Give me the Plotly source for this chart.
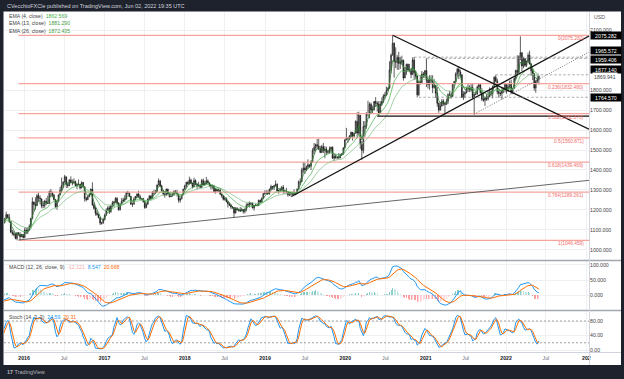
import pandas as pd
import numpy as np
import plotly.graph_objects as go

# ---------------- DATA (weekly XAU/USD, week starting Monday) ----------------
first_open = 1186
close_2015 = [1216,1277,1293,1279,1234,1227,1203,1213,1167,1152,1183,1199,1201,1204,1203,1175,1179,1189,1225,1205,1190,1168,1181,1201,1173,1168,1163,1132,1098,1095,1094,1113,1159,1134,1121,1108,1137,1145,1137,1156,1176,1162,1142,1088,1081,1076,1057,1085,1076,1065,1076,1061]
high_2015 = [1223,1282,1307,1295,1287,1243,1236,1224,1223,1177,1188,1220,1224,1219,1208,1209,1209,1196,1232,1232,1206,1195,1190,1205,1204,1180,1171,1165,1132,1103,1104,1126,1168,1170,1146,1126,1140,1157,1152,1159,1191,1178,1180,1144,1099,1093,1086,1088,1088,1088,1080,1077]
low_2015 = [1185,1214,1275,1250,1232,1216,1197,1196,1164,1148,1142,1179,1182,1187,1191,1175,1170,1170,1186,1203,1181,1162,1162,1180,1170,1162,1150,1131,1088,1079,1084,1090,1112,1116,1117,1098,1101,1127,1125,1131,1153,1159,1135,1085,1072,1067,1052,1047,1071,1046,1067,1056]

close_2016 = [1098,1089,1097,1117,1157,1239,1227,1222,1271,1259,1255,1220,1222,1243,1235,1232,1292,1289,1273,1252,1216,1243,1275,1298,1322,1339,1366,1327,1322,1350,1335,1335,1341,1321,1327,1328,1310,1337,1316,1257,1251,1266,1276,1304,1225,1208,1183,1177,1160,1134,1133,1151]
high_2016 = [1111,1112,1112,1127,1158,1263,1242,1263,1280,1287,1272,1255,1244,1250,1260,1271,1297,1304,1290,1280,1253,1247,1277,1315,1362,1343,1375,1358,1340,1354,1368,1352,1358,1346,1330,1352,1330,1343,1338,1318,1266,1273,1284,1307,1338,1236,1216,1195,1180,1164,1140,1160]
low_2016 = [1061,1078,1078,1095,1110,1153,1193,1201,1220,1240,1228,1208,1208,1210,1223,1231,1231,1265,1263,1247,1208,1200,1237,1274,1292,1308,1336,1310,1310,1318,1334,1323,1331,1318,1304,1323,1302,1308,1313,1241,1243,1251,1264,1275,1220,1201,1171,1170,1158,1124,1126,1132]

close_2017 = [1173,1197,1210,1191,1220,1234,1239,1257,1234,1201,1229,1243,1249,1254,1288,1284,1268,1228,1228,1254,1267,1279,1266,1254,1256,1242,1212,1228,1255,1269,1257,1289,1285,1291,1325,1346,1320,1297,1280,1274,1304,1280,1266,1269,1275,1294,1288,1280,1248,1256,1275,1303]
high_2017 = [1181,1207,1219,1220,1226,1245,1245,1264,1264,1238,1232,1259,1261,1274,1289,1296,1287,1270,1237,1264,1270,1283,1296,1276,1260,1260,1243,1233,1257,1274,1274,1294,1301,1300,1326,1357,1341,1326,1299,1284,1306,1306,1283,1283,1289,1297,1299,1300,1280,1260,1278,1306]
low_2017 = [1147,1172,1195,1180,1185,1216,1216,1236,1225,1195,1196,1228,1239,1241,1252,1277,1265,1226,1214,1227,1249,1259,1261,1251,1247,1236,1205,1208,1226,1250,1251,1256,1273,1280,1288,1322,1316,1290,1272,1261,1270,1277,1262,1264,1268,1272,1282,1267,1236,1236,1252,1274]

close_2018 = [1320,1338,1332,1350,1333,1316,1347,1330,1322,1324,1313,1347,1325,1332,1345,1336,1323,1314,1320,1291,1303,1294,1298,1278,1270,1253,1256,1241,1231,1223,1214,1212,1184,1206,1201,1199,1194,1201,1192,1203,1222,1227,1235,1233,1209,1222,1223,1222,1248,1238,1257,1281]
high_2018 = [1326,1340,1345,1366,1356,1337,1361,1353,1332,1341,1326,1355,1357,1346,1365,1353,1337,1320,1326,1325,1307,1306,1307,1310,1278,1271,1264,1262,1244,1236,1228,1219,1213,1214,1214,1206,1214,1211,1204,1207,1233,1234,1243,1237,1237,1225,1230,1231,1251,1251,1263,1284]
low_2018 = [1301,1312,1325,1326,1330,1307,1313,1324,1303,1313,1309,1309,1321,1321,1325,1332,1315,1302,1305,1285,1281,1290,1289,1276,1261,1247,1246,1238,1211,1219,1204,1205,1160,1182,1195,1191,1190,1194,1181,1182,1192,1221,1211,1224,1208,1196,1219,1217,1220,1236,1236,1256]

close_2019 = [1285,1288,1282,1304,1317,1314,1322,1328,1294,1298,1302,1313,1292,1291,1290,1275,1286,1279,1285,1277,1284,1305,1340,1341,1399,1409,1400,1415,1426,1419,1440,1497,1513,1527,1520,1506,1488,1517,1497,1505,1489,1490,1505,1514,1459,1468,1462,1463,1460,1476,1479,1511]
high_2019 = [1298,1298,1298,1306,1326,1319,1323,1347,1333,1300,1311,1320,1324,1299,1310,1293,1289,1288,1290,1303,1288,1306,1348,1358,1411,1439,1438,1422,1453,1427,1449,1509,1535,1532,1555,1557,1521,1526,1535,1519,1517,1498,1518,1516,1518,1479,1478,1466,1484,1482,1485,1514]
low_2019 = [1276,1279,1276,1276,1298,1302,1300,1320,1292,1281,1292,1295,1281,1282,1280,1266,1269,1267,1274,1274,1273,1279,1302,1325,1340,1383,1381,1395,1405,1411,1400,1440,1480,1493,1504,1500,1484,1485,1485,1459,1474,1481,1480,1485,1456,1445,1456,1453,1458,1459,1472,1478]

close_2020 = [1552,1562,1557,1571,1589,1570,1584,1643,1585,1674,1530,1498,1617,1620,1683,1683,1729,1700,1702,1743,1735,1730,1684,1730,1744,1771,1775,1799,1810,1902,1975,2035,1944,1940,1964,1934,1940,1950,1861,1899,1930,1899,1902,1879,1951,1889,1871,1777,1839,1839,1881,1877,1898]
high_2020 = [1553,1611,1563,1575,1592,1590,1585,1649,1689,1692,1675,1545,1645,1645,1690,1747,1739,1738,1722,1746,1765,1745,1745,1745,1764,1780,1790,1818,1815,1945,1984,2075,2040,2015,1976,1992,1967,1973,1953,1917,1933,1933,1932,1911,1965,1966,1898,1875,1848,1875,1896,1891,1900]
low_2020 = [1513,1548,1536,1549,1563,1547,1561,1583,1562,1576,1505,1451,1483,1567,1606,1670,1659,1683,1685,1699,1716,1693,1671,1686,1721,1735,1758,1782,1796,1807,1885,1976,1863,1911,1902,1902,1906,1926,1848,1873,1877,1891,1889,1860,1877,1850,1854,1764,1772,1828,1835,1862,1861]

close_2021 = [1850,1828,1855,1850,1813,1824,1784,1734,1700,1720,1745,1733,1729,1744,1777,1777,1769,1831,1843,1881,1905,1891,1877,1764,1781,1787,1808,1815,1802,1814,1763,1780,1781,1817,1827,1787,1754,1750,1761,1757,1768,1793,1783,1818,1865,1846,1792,1783,1783,1798,1809,1829]
high_2021 = [1959,1864,1875,1875,1875,1855,1826,1816,1739,1740,1755,1755,1740,1758,1785,1797,1790,1834,1846,1890,1913,1917,1903,1879,1795,1795,1818,1834,1825,1833,1832,1782,1795,1823,1834,1834,1809,1787,1765,1782,1801,1814,1810,1823,1869,1877,1858,1808,1793,1815,1813,1831]
low_2021 = [1816,1808,1802,1831,1785,1808,1760,1717,1687,1699,1719,1722,1677,1727,1730,1770,1757,1766,1808,1840,1870,1855,1865,1761,1751,1761,1784,1791,1790,1792,1757,1677,1775,1778,1809,1784,1745,1742,1721,1746,1748,1764,1771,1759,1816,1840,1779,1762,1770,1753,1785,1789]

close_2022 = [1797,1817,1835,1791,1808,1859,1899,1889,1970,1988,1921,1958,1925,1945,1975,1931,1897,1883,1811,1846,1853,1870]
high_2022 = [1831,1830,1848,1853,1810,1865,1903,1975,1974,2070,1990,1966,1960,1949,1988,1998,1936,1910,1884,1849,1870,1874]
low_2022 = [1782,1791,1806,1781,1780,1807,1852,1878,1889,1950,1895,1910,1917,1916,1936,1929,1872,1850,1798,1787,1836,1828]

last_bar_week = "2022-05-30"

# Fibonacci retracement (Dec 2015 low -> Aug 2020 high)
fib_ratios = ["0", "0.236", "0.382", "0.5", "0.618", "0.764", "1"]
fib_prices = [2075.282, 1832.480, 1682.373, 1560.871, 1439.469, 1289.261, 1046.459]
fib_start = "2015-12-07"

# Trendlines: (start date, start price, end date, end price)
long_support = ("2015-12-07", 1049, "2023-01-13", 1348)
desc_resist = ("2020-08-03", 2075, "2023-01-13", 1604)
asc_support = ("2019-05-01", 1267, "2023-01-13", 2071)
asc_channel = ("2021-08-09", 1680, "2023-01-13", 1991)
flat_support = ("2020-05-25", 1670, "2023-01-13", 1670)

# Dashed horizontal levels: (start date, price)
dashed_levels = [("2020-11-09", 1965.572), ("2021-01-04", 1959.406),
                 ("2020-11-30", 1764.570), ("2021-11-15", 1877.140)]

# Price-scale labels
box_labels = [2075.282, 1965.572, 1959.406, 1877.140, 1764.570]
box_yshift = [0, 7, -1, 5, 0]
last_price = 1869.941

ema_legend = ["1862.569", "1881.290", "1872.435"]
macd_legend = ["-12.121", "8.547", "20.668"]
stoch_legend = ["24.59", "20.31"]

price_ticks = [1000, 1100, 1200, 1300, 1400, 1500, 1600, 1700, 1800, 2100]
macd_ticks = [0, 50, 100]
stoch_ticks = [0, 40, 80]
time_ticks = ["2016-01-01", "2016-07-01", "2017-01-01", "2017-07-01", "2018-01-01", "2018-07-01",
              "2019-01-01", "2019-07-01", "2020-01-01", "2020-07-01", "2021-01-01", "2021-07-01",
              "2022-01-01", "2022-07-01", "2023-01-01"]
time_labels = ["2016", "Jul", "2017", "Jul", "2018", "Jul", "2019", "Jul", "2020", "Jul",
               "2021", "Jul", "2022", "Jul", "202"]

# ---------------- BUILD ----------------
closes = close_2015 + close_2016 + close_2017 + close_2018 + close_2019 + close_2020 + close_2021 + close_2022
highs = high_2015 + high_2016 + high_2017 + high_2018 + high_2019 + high_2020 + high_2021 + high_2022
lows = low_2015 + low_2016 + low_2017 + low_2018 + low_2019 + low_2020 + low_2021 + low_2022
opens = [first_open] + closes[:-1]
highs = [max(h, o, c) for h, o, c in zip(highs, opens, closes)]
lows = [min(l, o, c) for l, o, c in zip(lows, opens, closes)]
dates = pd.date_range(end=last_bar_week, periods=len(closes), freq="W-MON")

s = pd.Series(closes, dtype=float)
ema4 = s.ewm(span=4, adjust=False).mean()
ema13 = s.ewm(span=13, adjust=False).mean()
ema26 = s.ewm(span=26, adjust=False).mean()
macd = s.ewm(span=12, adjust=False).mean() - ema26
signal = macd.ewm(span=9, adjust=False).mean()
hist = macd - signal
hh = pd.Series(highs, dtype=float).rolling(14, min_periods=1).max()
ll = pd.Series(lows, dtype=float).rolling(14, min_periods=1).min()
kraw = 100 * (s - ll) / (hh - ll)
k = kraw.rolling(3, min_periods=1).mean()
d = k.rolling(3, min_periods=1).mean()

hist_colors = []
for i, h in enumerate(hist):
    prev = hist.iloc[i - 1] if i > 0 else 0
    if h >= 0:
        hist_colors.append("rgba(38,166,154,0.55)" if h > prev else "rgba(178,223,219,0.8)")
    else:
        hist_colors.append("rgba(255,82,82,0.55)" if h < prev else "rgba(255,205,210,0.8)")

X0, X1 = "2015-10-02", "2023-01-13"
W, H = 624, 379
PLOT_L, PLOT_R = 4, 589      # panes
PLOT_T, AXIS_B = 12, 352
WHITE_R, WHITE_B = 621, 365


def px_x(px):
    return px / W


def px_y(py):
    return 1 - py / H


fig = go.Figure()
FS = 5.2
FONT = "Liberation Sans, Arial, sans-serif"

# fib lines
for p in fib_prices:
    fig.add_trace(go.Scatter(x=[fib_start, X1], y=[p, p], mode="lines",
                             line=dict(color="#f6a39c", width=1.2), hoverinfo="skip",
                             showlegend=False, xaxis="x", yaxis="y"))

fig.add_trace(go.Candlestick(x=dates, open=opens, high=highs, low=lows, close=closes,
                             increasing=dict(line=dict(color="#1a1a1a", width=0.7), fillcolor="#a0a0a0"),
                             decreasing=dict(line=dict(color="#1a1a1a", width=0.7), fillcolor="#1a1a1a"),
                             whiskerwidth=0, showlegend=False, xaxis="x", yaxis="y"))

for ser, col in [(ema26, "#8cc48e"), (ema13, "#5cb860"), (ema4, "#2e7d32")]:
    fig.add_trace(go.Scatter(x=dates, y=ser, mode="lines", line=dict(color=col, width=0.8),
                             showlegend=False, hoverinfo="skip", xaxis="x", yaxis="y"))

for (d0, p0, d1, p1), col, w, dash in [
        (long_support, "#555555", 0.9, "solid"),
        (desc_resist, "#111111", 1.2, "solid"),
        (asc_support, "#111111", 1.2, "solid"),
        (asc_channel, "#666666", 0.9, "1px,1.5px"),
        (flat_support, "#111111", 1.2, "solid")]:
    fig.add_trace(go.Scatter(x=[d0, d1], y=[p0, p1], mode="lines",
                             line=dict(color=col, width=w, dash=dash), hoverinfo="skip",
                             showlegend=False, xaxis="x", yaxis="y"))

for d0, p in dashed_levels:
    fig.add_trace(go.Scatter(x=[d0, X1], y=[p, p], mode="lines",
                             line=dict(color="#8a8a8a", width=0.7, dash="2.5px,2px"), hoverinfo="skip",
                             showlegend=False, xaxis="x", yaxis="y"))

# MACD
fig.add_trace(go.Bar(x=dates, y=hist, marker=dict(color=hist_colors, line=dict(width=0)),
                     width=4.5 * 86400000, showlegend=False, xaxis="x", yaxis="y2"))
fig.add_trace(go.Scatter(x=dates, y=macd, mode="lines", line=dict(color="#2196f3", width=1.0),
                         showlegend=False, xaxis="x", yaxis="y2"))
fig.add_trace(go.Scatter(x=dates, y=signal, mode="lines", line=dict(color="#ff6d00", width=1.0),
                         showlegend=False, xaxis="x", yaxis="y2"))

# Stoch
for lvl in [80, 20]:
    fig.add_trace(go.Scatter(x=[X0, X1], y=[lvl, lvl], mode="lines",
                             line=dict(color="#8a8a8a", width=0.8, dash="2px,2px"), hoverinfo="skip",
                             showlegend=False, xaxis="x", yaxis="y3"))
fig.add_trace(go.Scatter(x=dates, y=k, mode="lines", line=dict(color="#2196f3", width=1.0),
                         showlegend=False, xaxis="x", yaxis="y3"))
fig.add_trace(go.Scatter(x=dates, y=d, mode="lines", line=dict(color="#ff6d00", width=1.0),
                         showlegend=False, xaxis="x", yaxis="y3"))

# frame / separators on a hidden full-figure axis pair (x2, y4), range 0..1
dark = "#1e222d"
frame_boxes = [(0, 624, 0, PLOT_T - 0.5), (0, 624, WHITE_B, 379),
               (0, PLOT_L - 0.5, 0, 379), (WHITE_R, 624, 0, 379)]
for x0, x1, y0, y1 in frame_boxes:
    fig.add_trace(go.Scatter(x=[px_x(x0), px_x(x1), px_x(x1), px_x(x0), px_x(x0)],
                             y=[px_y(y0), px_y(y0), px_y(y1), px_y(y1), px_y(y0)],
                             mode="lines", fill="toself", fillcolor=dark, line=dict(width=0, color=dark),
                             hoverinfo="skip", showlegend=False, xaxis="x2", yaxis="y4"))
sep_col = "#a3a6af"
for yy in [260.5, 310.5]:
    fig.add_trace(go.Scatter(x=[px_x(PLOT_L), px_x(WHITE_R)], y=[px_y(yy)] * 2, mode="lines",
                             line=dict(color=sep_col, width=1.5), hoverinfo="skip",
                             showlegend=False, xaxis="x2", yaxis="y4"))
fig.add_trace(go.Scatter(x=[px_x(PLOT_L), px_x(WHITE_R)], y=[px_y(AXIS_B + 0.5)] * 2, mode="lines",
                         line=dict(color="#d1d4dc", width=1), hoverinfo="skip",
                         showlegend=False, xaxis="x2", yaxis="y4"))
fig.add_trace(go.Scatter(x=[px_x(PLOT_R + 0.5)] * 2, y=[px_y(PLOT_T), px_y(WHITE_B)], mode="lines",
                         line=dict(color="#d1d4dc", width=1), hoverinfo="skip",
                         showlegend=False, xaxis="x2", yaxis="y4"))

tick_text = []
for lab in time_labels:
    if lab == "Jul":
        tick_text.append("<span style='color:#6a6d78'>Jul</span>")
    else:
        tick_text.append("<b>" + lab + "</b>")

grid = "#eef0f4"
XD = [px_x(PLOT_L), px_x(PLOT_R)]
fig.update_layout(
    width=W, height=H, margin=dict(l=0, r=0, t=0, b=0, autoexpand=False),
    paper_bgcolor="white", plot_bgcolor="rgba(0,0,0,0)",
    font=dict(family=FONT, size=FS, color="#333"),
    showlegend=False, bargap=0,
    xaxis=dict(type="date", range=[X0, X1], anchor="y3", domain=XD,
               tickvals=time_ticks, ticktext=tick_text, tickangle=0, ticklabelstandoff=2,
               showgrid=True, gridcolor=grid, gridwidth=1, zeroline=False,
               showline=False, ticks="", rangeslider=dict(visible=False),
               tickfont=dict(size=FS, color="#131722"), fixedrange=True),
    yaxis=dict(domain=[px_y(260.5), px_y(PLOT_T)], range=[946, 2192], side="right", anchor="x",
               tickvals=price_ticks, ticktext=["%.3f" % v for v in price_ticks],
               showgrid=True, gridcolor=grid, zeroline=False, ticks="",
               tickfont=dict(size=FS, color="#444")),
    yaxis2=dict(domain=[px_y(310.5), px_y(261)], range=[-50, 113], side="right", anchor="x",
                tickvals=macd_ticks, ticktext=["%.3f" % v for v in macd_ticks],
                showgrid=True, gridcolor=grid, zeroline=False, ticks="",
                tickfont=dict(size=FS, color="#444")),
    yaxis3=dict(domain=[px_y(AXIS_B), px_y(311)], range=[-5.5, 107.6], side="right", anchor="x",
                tickvals=stoch_ticks, ticktext=["%.2f" % v for v in stoch_ticks],
                showgrid=True, gridcolor=grid, zeroline=False, ticks="",
                tickfont=dict(size=FS, color="#444")),
    xaxis2=dict(domain=[0, 1], range=[0, 1], anchor="y4", visible=False, fixedrange=True),
    yaxis4=dict(domain=[0, 1], range=[0, 1], anchor="x2", visible=False, fixedrange=True),
)

ann = []
ann.append(dict(x=px_x(5), y=px_y(5.8), xref="paper", yref="paper", xanchor="left", yanchor="middle",
                text="CVecchioFXCle published on TradingView.com, Jun 02, 2022 19:35 UTC",
                showarrow=False, font=dict(size=5.5, color="#d1d4dc")))
ann.append(dict(x=px_x(5), y=px_y(372), xref="paper", yref="paper", xanchor="left", yanchor="middle",
                text="<b>17</b> TradingView", showarrow=False, font=dict(size=5.5, color="#b2b5be")))
ann.append(dict(x=px_x(592), y=px_y(17), xref="paper", yref="paper", xanchor="left", yanchor="middle",
                text="USD", showarrow=False, font=dict(size=FS, color="#555")))
ema_names = ["EMA (4, close)", "EMA (13, close)", "EMA (26, close)"]
ema_cols = ["#4caf50", "#43a047", "#43a047"]
for i, (nm, val) in enumerate(zip(ema_names, ema_legend)):
    ann.append(dict(x=px_x(7), y=px_y(15.7 + 7.6 * i), xref="paper", yref="paper",
                    xanchor="left", yanchor="middle", showarrow=False,
                    text="%s  <span style='color:%s'>%s</span>" % (nm, ema_cols[i], val),
                    font=dict(size=FS, color="#444")))
ann.append(dict(x=px_x(7), y=px_y(267.3), xref="paper", yref="paper", xanchor="left", yanchor="middle",
                showarrow=False, font=dict(size=FS, color="#444"),
                text="MACD (12, 26, close, 9)  <span style='color:#f7a9a8'>%s</span>  "
                     "<span style='color:#2196f3'>%s</span>  <span style='color:#ff6d00'>%s</span>"
                     % tuple(macd_legend)))
ann.append(dict(x=px_x(7), y=px_y(316.8), xref="paper", yref="paper", xanchor="left", yanchor="middle",
                showarrow=False, font=dict(size=FS, color="#444"),
                text="Stoch (14, 3, 3)  <span style='color:#2196f3'>%s</span>  "
                     "<span style='color:#ff6d00'>%s</span>" % tuple(stoch_legend)))
for r, p in zip(fib_ratios, fib_prices):
    ann.append(dict(x=px_x(586), y=p, xref="paper", yref="y", xanchor="right", yanchor="middle",
                    yshift=-3.5, showarrow=False, text="%s(%.3f)" % (r, p),
                    font=dict(size=4.8, color="#ef6b6b")))
for p, ys in zip(box_labels, box_yshift):
    ann.append(dict(x=px_x(PLOT_R + 0.5), y=p, xref="paper", yref="y", xanchor="left", yanchor="middle",
                    yshift=ys, showarrow=False, text="%.3f" % p, bgcolor="#000000",
                    width=29, height=6, borderpad=0.5, align="center",
                    font=dict(size=FS, color="#ffffff")))
ann.append(dict(x=px_x(592), y=last_price, xref="paper", yref="y", xanchor="left", yanchor="middle",
                yshift=-1, showarrow=False, text="%.3f" % last_price, font=dict(size=FS, color="#444"),
                bgcolor="white"))
fig.update_layout(annotations=ann)

fig.write_html("out.html", config={"displayModeBar": False},
               post_script="document.body.style.margin='0px';")
